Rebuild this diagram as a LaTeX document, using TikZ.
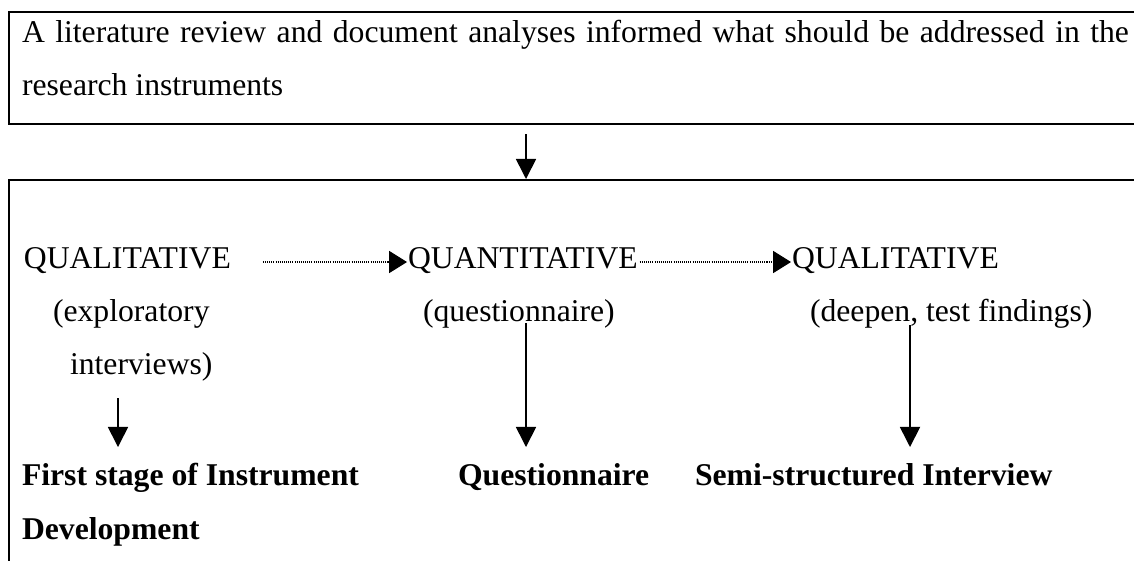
\documentclass[tikz,border=0pt]{standalone}
\usepackage{fontspec}
\setmainfont{Liberation Serif}
\usetikzlibrary{arrows.meta,calc}

\begin{document}
\begin{tikzpicture}[x=0.3788pt,y=-0.3788pt,
  txt/.style={inner sep=0pt, outer sep=0pt, anchor=base west,
              font=\fontsize{12}{14}\selectfont},
  boldtxt/.style={txt, font=\fontsize{12}{14}\selectfont\bfseries},
  frame/.style={draw, line width=0.75pt, inner sep=0pt, anchor=north west},
  solidarrow/.style={line width=0.6pt, -{Triangle[width=7.6pt,length=7.6pt]}},
  dotarrow/.style={line width=0.4pt, dash pattern=on 0.4pt off 0.4pt,
                   -{Triangle[width=8.4pt,length=6.8pt]}}]

\useasboundingbox (0,0) rectangle (1134,560);
\clip (0,0) rectangle (1134,560);

% outer frames
\node[frame, minimum width=432.6pt, minimum height=42.4pt] (topbox) at (8,11) {};
\node[frame, minimum width=432.6pt, minimum height=159.5pt] (mainbox) at (8,179) {};

% heading text
\node[txt] (intro1) at (22,42) {\makebox[419.3pt][s]{A literature review and document analyses informed what should be addressed in the}};
\node[txt] (intro2) at (22,95) {research instruments};

% the three phases
\node[txt] (qual1)  at (24,268)  {QUALITATIVE};
\node[txt] (explo)  at (53,321)  {(exploratory};
\node[txt] (interv) at (70,374)  {interviews)};
\node[txt] (quant)  at (408,268) {QUANTITATIVE};
\node[txt] (quest)  at (423,321) {(questionnaire)};
\node[txt] (qual2)  at (792,268) {QUALITATIVE};
\node[txt] (deepen) at (810,321) {(deepen, test findings)};

% outcomes
\node[boldtxt] (first) at (22,485)  {First stage of Instrument};
\node[boldtxt] (devel) at (22,539)  {Development};
\node[boldtxt] (qnr)   at (458,485) {Questionnaire};
\node[boldtxt] (semi)  at (695,485) {Semi-structured Interview};

% arrow from the heading into the main frame
\coordinate (h0) at (526,134);
\draw[solidarrow] (h0) -- (h0 |- mainbox.north);

% dotted sequence arrows
\draw[dotarrow] ($(qual1.base east)+(32,-6)$) -- ($(quant.base west)+(-1,-6)$);
\draw[dotarrow] ($(quant.base east)+(2,-6)$) -- ($(qual2.base west)+(-1,-6)$);

% arrows down to the outcomes
\coordinate (s1) at (118,398);
\coordinate (e1) at (118,447);
\coordinate (s2) at (526,323);
\coordinate (e2) at (526,447);
\coordinate (s3) at (910,325);
\coordinate (e3) at (910,447);
\draw[solidarrow] (s1) -- (e1);
\draw[solidarrow] (s2) -- (e2);
\draw[solidarrow] (s3) -- (e3);
\end{tikzpicture}
\end{document}
